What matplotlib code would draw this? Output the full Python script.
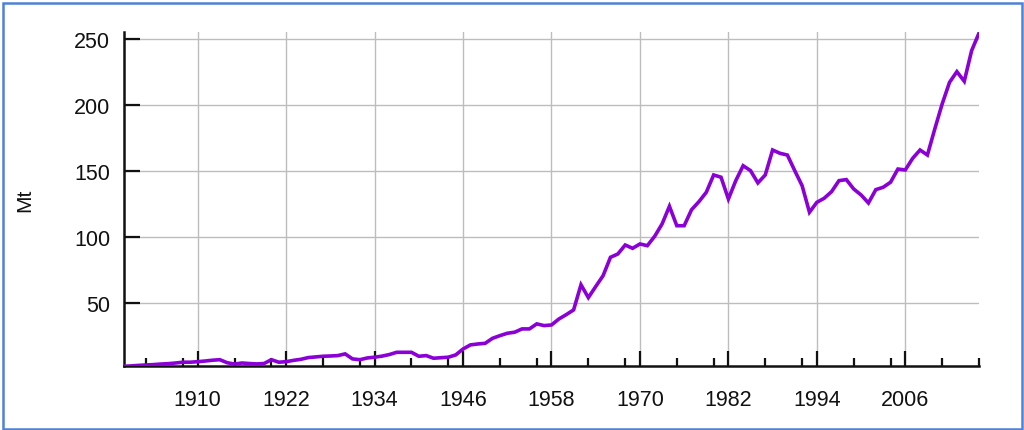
import matplotlib
matplotlib.use('Agg')
import matplotlib.pyplot as plt
from matplotlib.patches import Rectangle

# annual production, Mt
years = list(range(1900, 2017))
values = [
    2.3, 2.6, 3.0, 3.3, 3.6, 4.0, 4.3, 4.8, 5.4, 5.4,          # 1900s
    5.8, 6.3, 6.9, 7.3, 5.0, 4.0, 4.8, 4.4, 4.1, 4.4,          # 1910s
    7.3, 5.4, 5.8, 6.8, 7.6, 8.9, 9.4, 9.9, 10.1, 10.4,        # 1920s
    11.7, 7.9, 7.3, 8.6, 9.2, 10.0, 11.2, 12.9, 12.9, 12.9,    # 1930s
    9.9, 10.4, 8.4, 8.8, 9.2, 10.9, 15.4, 18.5, 19.2, 19.7,    # 1940s
    23.5, 25.5, 27.3, 28.1, 30.6, 30.6, 34.4, 33.1, 33.6, 38.1,  # 1950s
    41.4, 45.0, 64.0, 54.3, 62.7, 70.9, 84.8, 87.3, 94.1, 91.6,  # 1960s
    94.9, 93.6, 100.7, 110.0, 123.4, 108.7, 108.7, 120.8, 126.9, 134.0,  # 1970s
    147.1, 145.4, 128.9, 142.8, 154.1, 150.4, 141.1, 147.1, 166.0, 163.5,  # 1980s
    162.2, 150.4, 139.0, 118.9, 126.4, 129.5, 134.5, 142.8, 143.6, 136.5,  # 1990s
    132.0, 125.9, 136.0, 137.8, 141.6, 151.6, 150.9, 159.7, 166.0, 162.2,  # 2000s
    181.9, 200.8, 217.2, 225.3, 218.0, 241.2, 254.5,            # 2010s
]

major_years = list(range(1910, 2007, 12))
minor_years = [y + d for y in range(1898, 2007, 12) for d in (5, 10)]
y_ticks = [50, 100, 150, 200, 250]

plt.rcParams['font.family'] = ['Liberation Sans', 'DejaVu Sans']

fig = plt.figure(figsize=(10.24, 4.31), dpi=100)
fig.patch.set_facecolor('white')
ax = fig.add_axes([124 / 1024, 1 - 367.3 / 431, (979 - 124) / 1024, (367.3 - 33) / 431])

ax.plot(years, values, color='#8a00d6', linewidth=2.6, solid_joinstyle='miter', zorder=3)

ax.set_xlim(1900, 2016)
ax.set_ylim(2.3, 255.3)

ax.set_xticks(major_years)
ax.set_xticks(minor_years, minor=True)
ax.set_yticks(y_ticks)

ax.grid(True, which='major', color='#bdbdbd', linewidth=1.0)
ax.set_axisbelow(True)

for s in ['top', 'right']:
    ax.spines[s].set_visible(False)
for s in ['left', 'bottom']:
    ax.spines[s].set_linewidth(1.8)
    ax.spines[s].set_color('#111111')

ax.tick_params(axis='x', which='major', direction='in', length=11, width=1.6,
               labelsize=15.5, pad=16, colors='#111111')
ax.tick_params(axis='x', which='minor', direction='in', length=6, width=1.6,
               colors='#111111')
ax.tick_params(axis='y', which='major', direction='in', length=11.5, width=1.6,
               labelsize=15.5, pad=10, colors='#111111')

fig.text(25 / 1024, 1 - 200 / 431, 'Mt', rotation=90, ha='center', va='center',
         fontsize=15, color='#111111')

# blue frame around the picture
fig.patches.append(Rectangle((2.5 / 1024, 1.5 / 431), 1019 / 1024, 426 / 431,
                             transform=fig.transFigure, fill=False,
                             edgecolor='#4f81d6', linewidth=1.8))

fig.savefig('out.png', dpi=100, facecolor='white')
